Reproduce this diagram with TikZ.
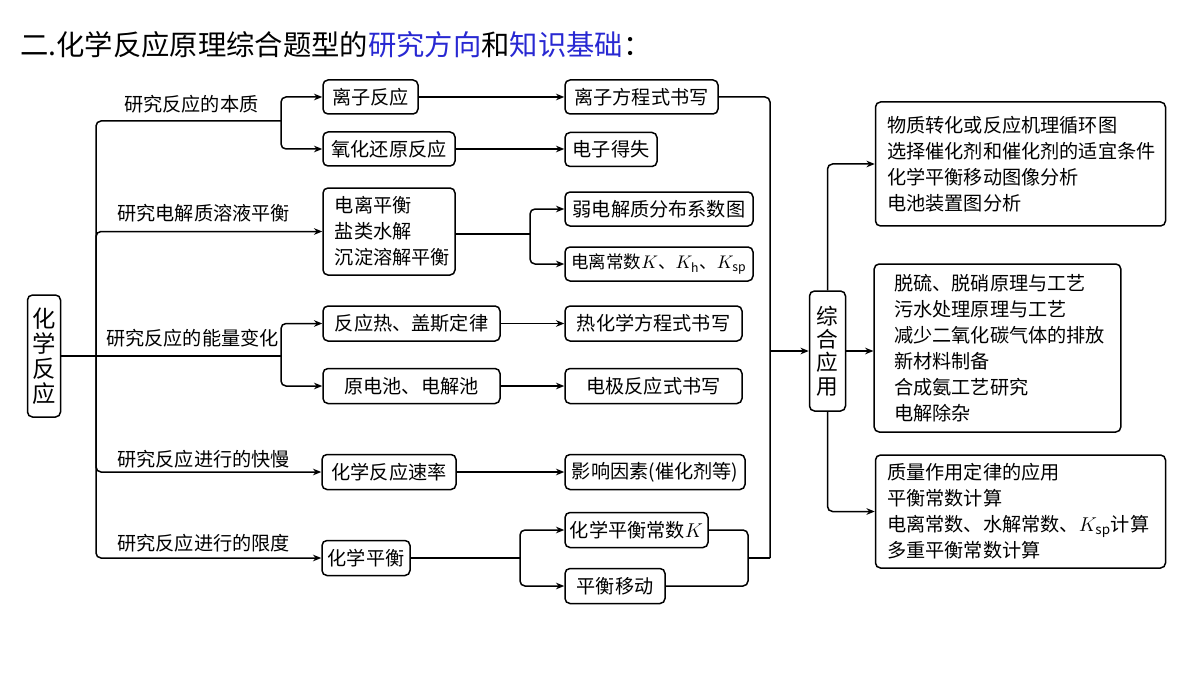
\documentclass[tikz,border=0pt]{standalone}
\usepackage{fontspec}
\setmainfont{Noto Sans CJK SC}
\usetikzlibrary{arrows.meta}
\definecolor{titleblue}{RGB}{40,40,210}
\tikzset{
  box/.style={draw, line width=0.9pt, rounded corners=3pt, inner sep=0pt, font=\fontsize{11.5}{15.6}\selectfont},
  tbox/.style={box, align=left, inner xsep=7pt},
  arr/.style={-{Stealth[length=5pt,width=4pt]}, line width=0.9pt, rounded corners=3pt},
  lin/.style={line width=0.9pt, rounded corners=3pt},
  lab/.style={anchor=west, inner sep=0pt, font=\fontsize{11.5}{14}\selectfont}
}
\begin{document}
\begin{tikzpicture}[x=0.6pt,y=-0.6pt]
            \useasboundingbox (0,0) rectangle (1200,675);
            \node[anchor=west, inner sep=0pt, font=\fontsize{17}{20}\selectfont] (title) at (20,45)
              {二.化学反应原理综合题型的\textcolor{titleblue}{研究方向}和\textcolor{titleblue}{知识基础}：};

            % root and first column
            \node[box, minimum width=19.8pt, minimum height=73.2pt, align=center, font=\fontsize{14}{15}\selectfont] (root) at (44,356) {化\\学\\反\\应};
            \node[box, minimum width=57pt, minimum height=20.4pt] (ion) at (370.5,97) {离子反应};
            \node[box, minimum width=79.2pt, minimum height=20.4pt] (redox) at (389,149) {氧化还原反应};
            \node[tbox, minimum width=79.2pt, minimum height=52.2pt, text width=65pt] (sol) at (389,231.5) {电离平衡\\盐类水解\\沉淀溶解平衡};
            \node[box, minimum width=106.2pt, minimum height=21pt] (heat) at (411.5,323.5) {反应热、盖斯定律};
            \node[box, minimum width=106.2pt, minimum height=21pt] (cell) at (411.5,386) {原电池、电解池};
            \node[box, minimum width=80.4pt, minimum height=21pt] (rate) at (389,472) {化学反应速率};
            \node[box, minimum width=52.8pt, minimum height=21pt] (eq) at (366,558) {化学平衡};

            % second column
            \node[box, minimum width=91.8pt, minimum height=20.4pt] (ioneq) at (641.5,97) {离子方程式书写};
            \node[box, minimum width=55.2pt, minimum height=20.4pt] (elec) at (611,149.5) {电子得失};
            \node[box, minimum width=112.8pt, minimum height=20.4pt] (dist) at (659,209) {弱电解质分布系数图};
            \node[box, minimum width=112.8pt, minimum height=20.4pt, font=\fontsize{10.5}{14}\selectfont] (const) at (659,264) {电离常数$K$、$K_{\mathrm{h}}$、$K_{\mathrm{sp}}$};
            \node[box, minimum width=106.2pt, minimum height=21pt] (thermo) at (653.5,323.5) {热化学方程式书写};
            \node[box, minimum width=106.2pt, minimum height=21pt] (electrode) at (653.5,386) {电极反应式书写};
            \node[box, minimum width=108pt, minimum height=21pt] (factor) at (655,472) {影响因素(催化剂等)};
            \node[box, minimum width=85.8pt, minimum height=21pt] (eqk) at (636.5,530) {化学平衡常数$K$};
            \node[box, minimum width=60pt, minimum height=21pt] (shift) at (615,586) {平衡移动};

            % applications
            \node[box, minimum width=21.6pt, minimum height=72pt, align=center, font=\fontsize{13}{14}\selectfont] (app) at (827.5,351) {综\\合\\应\\用};
            \node[tbox, minimum width=172.2pt, minimum height=74.4pt, text width=160pt] (appA) at (1020.5,164)
              {物质转化或反应机理循环图\\选择催化剂和催化剂的适宜条件\\化学平衡移动图像分析\\电池装置图分析};
            \node[tbox, minimum width=144.6pt, minimum height=100.8pt, text width=124pt, inner xsep=12pt] (appB) at (997.5,348)
              {脱硫、脱硝原理与工艺\\污水处理原理与工艺\\减少二氧化碳气体的排放\\新材料制备\\合成氨工艺研究\\电解除杂};
            \node[tbox, minimum width=172.2pt, minimum height=67.8pt, text width=160pt] (appC) at (1020.5,511.5)
              {质量作用定律的应用\\平衡常数计算\\电离常数、水解常数、$K_{\mathrm{sp}}$计算\\多重平衡常数计算};

            % branch labels
            \node[lab] (l1) at (124,104) {研究反应的本质};
            \node[lab] (l2) at (117,213) {研究电解质溶液平衡};
            \node[lab] (l3) at (106,338) {研究反应的能量变化};
            \node[lab] (l4) at (117,459) {研究反应进行的快慢};
            \node[lab] (l5) at (117,543) {研究反应进行的限度};

            \coordinate (s1) at (281,121);
            \coordinate (s3) at (281,356);
            \coordinate (tk) at (96,356);
            \coordinate (s2) at (530,234);
            \coordinate (s5) at (520,558);
            \coordinate (bk) at (748,558);
            \coordinate (col) at (770,558);

            % trunk and first split
            \draw[lin] (tk) |- (s1);
            \draw[arr] (s1) |- (ion.west);
            \draw[arr] (s1) |- (redox.west);
            \draw[arr] (tk) |- (sol.west);
            \draw[lin] (root.east) -- (s3);
            \draw[arr] (s3) |- (heat.west);
            \draw[arr] (s3) |- (cell.west);
            \draw[arr] (tk) |- (rate.west);
            \draw[arr] (tk) |- (eq.west);

            % first to second column
            \draw[arr] (ion) -- (ioneq);
            \draw[arr] (redox.east) -- (elec.west |- redox.east);
            \draw[lin] (sol.east |- s2) -- (s2);
            \draw[arr] (s2) |- (dist.west);
            \draw[arr] (s2) |- (const.west);
            \draw[arr] (heat) -- (thermo);
            \draw[arr] (cell) -- (electrode);
            \draw[arr] (rate) -- (factor);
            \draw[lin] (eq.east) -- (s5);
            \draw[arr] (s5) |- (eqk.west);
            \draw[arr] (s5) |- (shift.west);

            % collecting lines
            \draw[lin] (ioneq.east) -| (col);
            \draw[lin] (eqk.east) -| (bk) |- (shift.east);
            \draw[lin] (bk) -- (col);
            \draw[arr] (app.west -| col) -- (app.west);

            % applications
            \draw[arr] (app.north) |- (appA.west);
            \draw[arr] (app.east) -- (app.east -| appB.west);
            \draw[arr] (app.south) |- (appC.west);
\end{tikzpicture}
\end{document}
